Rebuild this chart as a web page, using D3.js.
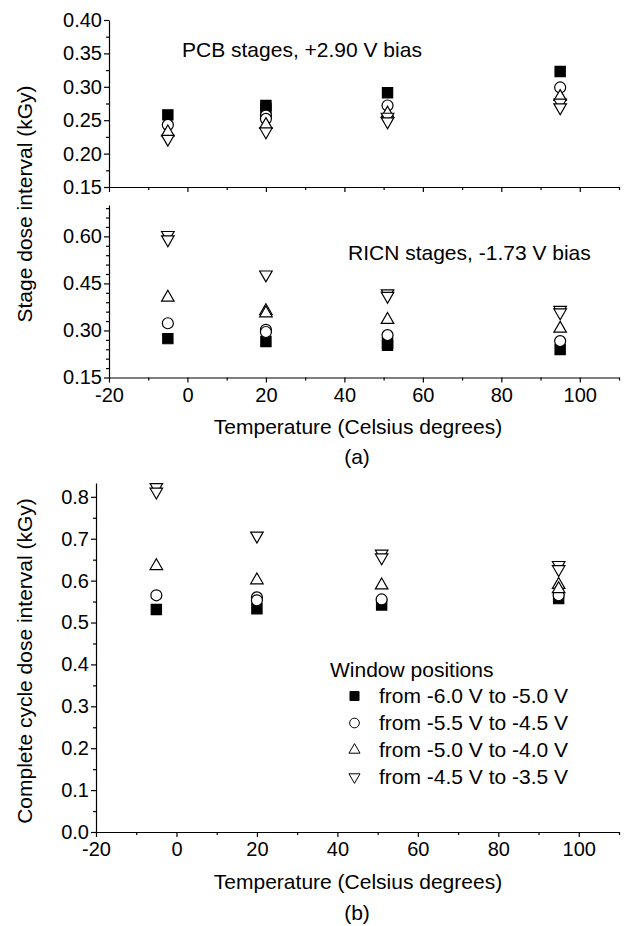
<!DOCTYPE html>
<html>
<head>
<meta charset="utf-8">
<script src="https://cdn.jsdelivr.net/npm/d3@7"></script>
<style>
  body { margin: 0; background: #fff; }
  svg text { font-family: "Liberation Sans", Arial, sans-serif; fill: #000; }
</style>
</head>
<body>
<div id="chart"></div>
<script>
// temperatures (Celsius degrees)
const temps = [-5, 20, 51, 95];

// series names (window positions)
const seriesNames = [
    "from -6.0 V to -5.0 V",
    "from -5.5 V to -4.5 V",
    "from -5.0 V to -4.0 V",
    "from -4.5 V to -3.5 V"
];

// (a) top: PCB stages, one list per temperature (some points overlap)
const pcbSquare = [[0.258], [0.272, 0.267], [0.291], [0.323]];
const pcbCircle = [[0.243], [0.257, 0.252], [0.272], [0.299]];
const pcbUp     = [[0.232], [0.243], [0.260], [0.285]];
const pcbDown   = [[0.222], [0.233], [0.255, 0.248], [0.276, 0.269]];

// (a) bottom: RICN stages
const ricnSquare = [[0.274], [0.265], [0.260, 0.253], [0.239]];
const ricnCircle = [[0.323], [0.302, 0.295], [0.285], [0.266]];
const ricnUp     = [[0.405], [0.362, 0.355], [0.334], [0.306]];
const ricnDown   = [[0.604, 0.590], [0.478], [0.418, 0.410], [0.365, 0.357]];

// (b) complete cycle
const cycleSquare = [[0.531], [0.533], [0.542], [0.557]];
const cycleCircle = [[0.565], [0.560, 0.553], [0.555], [0.565]];
const cycleUp     = [[0.635], [0.601], [0.589], [0.590, 0.580]];
const cycleDown   = [[0.823, 0.812], [0.707], [0.664, 0.655], [0.637, 0.627]];

const xTicksMajor = [-20, 0, 20, 40, 60, 80, 100];
const xTicksMinor = [-10, 10, 30, 50, 70, 90, 110];

const width = 624, height = 926;
const tickFont = "20px", textFont = "21px";

const svg = d3.select("#chart").append("svg")
    .attr("width", width)
    .attr("height", height);

const symbols = [
    { type: d3.symbolSquare, size: 105, rot: 0, fill: "#000" },
    { type: d3.symbolCircle, size: 95, rot: 0, fill: "#fff" },
    { type: d3.symbolTriangle, size: 68, rot: 0, fill: "#fff" },
    { type: d3.symbolTriangle, size: 68, rot: 180, fill: "#fff" }
];

// plain hyphen for negatives, like the original
const fmt = f => d => d3.format(f)(d).replace("\u2212", "-");

function drawPanel(p) {
    const x = d3.scaleLinear().domain([-20, 110]).range([p.left, 619]);
    const y = d3.scaleLinear().domain(p.yDomain).range(p.yRange);

    // minor ticks first
    svg.append("g")
        .attr("transform", "translate(" + p.left + ",0)")
        .call(d3.axisLeft(y).tickValues(p.yMinor).tickSize(3).tickSizeOuter(0).tickFormat(""))
        .call(g => g.select(".domain").remove());

    svg.append("g")
        .attr("transform", "translate(0," + p.yRange[0] + ")")
        .call(d3.axisBottom(x).tickValues(xTicksMinor).tickSize(3).tickSizeOuter(0).tickFormat(""))
        .call(g => g.select(".domain").remove());

    svg.append("g")
        .attr("class", "y-axis")
        .attr("transform", "translate(" + p.left + ",0)")
        .call(d3.axisLeft(y).tickValues(p.yMajor).tickSize(5).tickSizeOuter(0).tickPadding(2)
            .tickFormat(fmt(p.yFormat)));

    svg.append("g")
        .attr("class", "x-axis")
        .attr("transform", "translate(0," + p.yRange[0] + ")")
        .call(d3.axisBottom(x).tickValues(xTicksMajor).tickSize(5).tickSizeOuter(0).tickPadding(5)
            .tickFormat(p.xLabels ? fmt("d") : ""));

    svg.selectAll(".y-axis text, .x-axis text").style("font-size", tickFont);
    svg.selectAll("path.domain, .tick line").attr("stroke", "#000").attr("stroke-width", 1.2);

    // points: squares, circles, up triangles, down triangles
    p.series.forEach((s, i) => {
        const sym = symbols[i];
        const pts = [];
        s.forEach((vals, j) => vals.forEach(v => pts.push({ t: temps[j], v: v })));
        svg.append("g").selectAll("path")
            .data(pts)
            .enter()
            .append("path")
            .attr("d", d3.symbol().type(sym.type).size(sym.size))
            .attr("transform", d => "translate(" + x(d.t) + "," + y(d.v) + ") rotate(" + sym.rot + ")")
            .attr("fill", sym.fill)
            .attr("stroke", "#000")
            .attr("stroke-width", 1.2);
    });
}

// (a) upper: PCB
drawPanel({
    left: 109,
    yDomain: [0.15, 0.40], yRange: [187, 20],
    yMajor: [0.15, 0.20, 0.25, 0.30, 0.35, 0.40],
    yMinor: [0.175, 0.225, 0.275, 0.325, 0.375],
    yFormat: ".2f",
    xLabels: false,
    series: [pcbSquare, pcbCircle, pcbUp, pcbDown]
});

// (a) lower: RICN
drawPanel({
    left: 109,
    yDomain: [0.15, 0.70], yRange: [377.5, 205],
    yMajor: [0.15, 0.30, 0.45, 0.60],
    yMinor: [0.18, 0.21, 0.24, 0.27, 0.33, 0.36, 0.39, 0.42, 0.48, 0.51, 0.54, 0.57, 0.63, 0.66, 0.69],
    yFormat: ".2f",
    xLabels: true,
    series: [ricnSquare, ricnCircle, ricnUp, ricnDown]
});

// (b) complete cycle
drawPanel({
    left: 96,
    yDomain: [0, 0.833], yRange: [832, 483],
    yMajor: [0, 0.1, 0.2, 0.3, 0.4, 0.5, 0.6, 0.7, 0.8],
    yMinor: [0.05, 0.15, 0.25, 0.35, 0.45, 0.55, 0.65, 0.75],
    yFormat: ".1f",
    xLabels: true,
    series: [cycleSquare, cycleCircle, cycleUp, cycleDown]
});

// annotations
svg.append("text").attr("x", 182).attr("y", 57)
    .style("font-size", textFont).text("PCB stages, +2.90 V bias");
svg.append("text").attr("x", 348).attr("y", 260)
    .style("font-size", textFont).text("RICN stages, -1.73 V bias");

// axis titles
svg.append("text").attr("x", 358).attr("y", 434).attr("text-anchor", "middle")
    .style("font-size", textFont).text("Temperature (Celsius degrees)");
svg.append("text").attr("x", 357).attr("y", 464).attr("text-anchor", "middle")
    .style("font-size", textFont).text("(a)");
svg.append("text").attr("x", 358).attr("y", 889).attr("text-anchor", "middle")
    .style("font-size", textFont).text("Temperature (Celsius degrees)");
svg.append("text").attr("x", 357).attr("y", 920).attr("text-anchor", "middle")
    .style("font-size", textFont).text("(b)");

svg.append("text")
    .attr("transform", "translate(32,204) rotate(-90)")
    .attr("text-anchor", "middle")
    .style("font-size", textFont).text("Stage dose interval (kGy)");
svg.append("text")
    .attr("transform", "translate(32,661) rotate(-90)")
    .attr("text-anchor", "middle")
    .style("font-size", textFont).text("Complete cycle dose interval (kGy)");

// legend
const legend = svg.append("g").attr("transform", "translate(330,677)");
legend.append("text").attr("x", 0).attr("y", 0)
    .style("font-size", textFont).text("Window positions");
seriesNames.forEach((name, i) => {
    const sym = symbols[i];
    const ly = 19 + i * 27;
    legend.append("path")
        .attr("d", d3.symbol().type(sym.type).size(sym.size * 0.78))
        .attr("transform", "translate(24.5," + ly + ") rotate(" + sym.rot + ")")
        .attr("fill", sym.fill)
        .attr("stroke", "#000")
        .attr("stroke-width", 1);
    legend.append("text").attr("x", 49).attr("y", ly + 7)
        .style("font-size", textFont).text(name);
});
</script>
</body>
</html>
